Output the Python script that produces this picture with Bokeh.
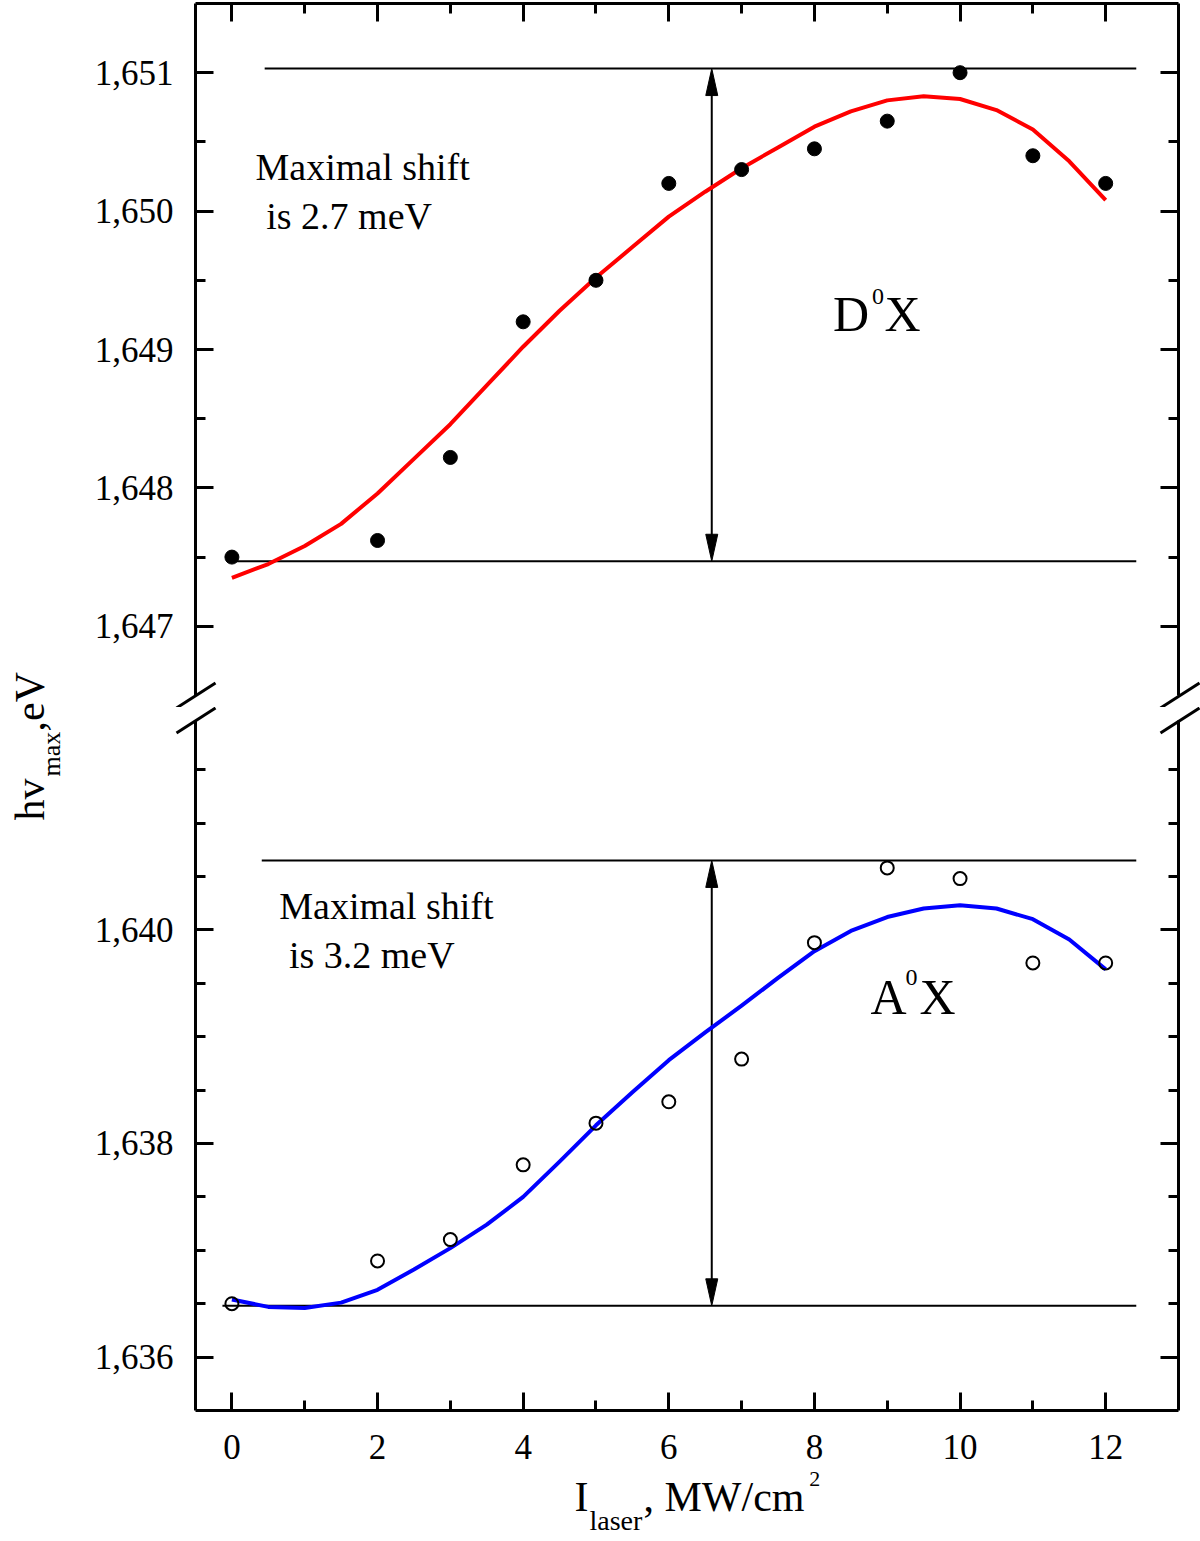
import numpy as np
from bokeh.plotting import figure
from bokeh.models import (Range1d, LinearAxis, FixedTicker, CustomJSTickFormatter, Label)
from bokeh.core.properties import value
from bokeh.layouts import row, column
from bokeh.embed import file_html
from bokeh.resources import INLINE

# ---------------- data ----------------
intensity = [0, 2, 3, 4, 5, 6, 7, 8, 9, 10, 11, 12]
d0x_energy = [1.64750, 1.64762, 1.64822, 1.64920, 1.64950, 1.65020,
              1.65030, 1.65045, 1.65065, 1.65100, 1.65040, 1.65020]
a0x_energy = [1.63650, 1.63690, 1.63710, 1.63780, 1.63819, 1.63839,
              1.63879, 1.63988, 1.64058, 1.64048, 1.63969, 1.63969]

fit_x = [0, 0.5, 1.0, 1.5, 2.0, 2.5, 3.0, 3.5, 4.0, 4.5, 5.0, 5.5, 6.0,
         6.5, 7.0, 7.5, 8.0, 8.5, 9.0, 9.5, 10.0, 10.5, 11.0, 11.5, 12.0]
d0x_fit = [1.64735, 1.64745, 1.64758, 1.64774, 1.64796, 1.64821, 1.64846,
           1.64874, 1.64902, 1.64928, 1.64952, 1.64974, 1.64996, 1.65014,
           1.65031, 1.65046, 1.65061, 1.65072, 1.65080, 1.65083, 1.65081,
           1.65073, 1.65059, 1.65036, 1.65008]
a0x_fit = [1.63654, 1.63647, 1.63646, 1.63651, 1.63663, 1.63682, 1.63702,
           1.63724, 1.63750, 1.63783, 1.63817, 1.63848, 1.63878, 1.63904,
           1.63929, 1.63955, 1.63980, 1.63999, 1.64012, 1.64020, 1.64023,
           1.64020, 1.64010, 1.63991, 1.63963]

d0x_levels = [1.64747, 1.65103]   # min / max guide lines
a0x_levels = [1.63648, 1.64065]
shift_x = 6.59                     # position of the double arrows

x_ticks = [0, 2, 4, 6, 8, 10, 12]
x_minor = [1, 3, 5, 7, 9, 11]
top_ticks = [1.647, 1.648, 1.649, 1.650, 1.651]
top_minor = [1.6475, 1.6485, 1.6495, 1.6505]
bot_ticks = [1.636, 1.638, 1.640]
bot_minor = [1.6365, 1.637, 1.6375, 1.6385, 1.639, 1.6395, 1.6405, 1.641, 1.6415]

# ---------------- layout constants ----------------
FONT = "Liberation Serif"
BASE_CORR = 0.36          # empirical alphabetic-baseline correction (em)
X0, X1 = -0.5, 13.0
FRAME_W = 983
TOP_Y = (1.6465, 1.6515)
BOT_Y = (1.6355, 1.64196)
TOP_FH = 692
BOT_FH = 690
LBL_W = 83
BL, BR = 112, 22
FIG_W = BL + FRAME_W + BR
TOP_H = 3 + TOP_FH + 12
BOT_H = 1541 - TOP_H
BOT_BB = BOT_H - 13 - BOT_FH

KX = FRAME_W / (X1 - X0)

xr = Range1d(X0, X1)
ylab_fmt = CustomJSTickFormatter(code="return tick.toFixed(3).replace('.', ',');")


def style_axis(ax, ticks, minor, labels=True, standoff=22):
    ax.ticker = FixedTicker(ticks=ticks, minor_ticks=minor)
    ax.axis_line_width = 3
    ax.axis_line_color = "black"
    ax.major_tick_in = 18
    ax.major_tick_out = 0
    ax.minor_tick_in = 10
    ax.minor_tick_out = 0
    ax.major_tick_line_width = 3
    ax.minor_tick_line_width = 3
    ax.major_tick_line_color = "black"
    ax.minor_tick_line_color = "black"
    ax.axis_label = None
    if labels:
        ax.major_label_text_font = FONT
        ax.major_label_text_font_size = "35px"
        ax.major_label_text_color = "black"
        ax.major_label_standoff = standoff
    else:
        ax.major_label_text_font_size = "1px"
        ax.major_label_text_color = None
        ax.major_label_standoff = 0


def add_double_arrow(p, x, y0, y1, ky):
    L = 27.0 / ky
    W = 6.0 / KX
    p.segment(x0=[x], y0=[y0 + L * 0.5], x1=[x], y1=[y1 - L * 0.5],
              line_width=2, line_color="black")
    p.patches(xs=[[x, x - W, x + W], [x, x - W, x + W]],
              ys=[[y1, y1 - L, y1 - L], [y0, y0 + L, y0 + L]],
              fill_color="black", line_color="black", line_width=1)


def break_marks(p, yc, ky):
    # two slanted strokes centred on the frame corners where the axis is broken
    xs0 = [X0 - 19 / KX, X1 - 18 / KX]
    xs1 = [X0 + 20 / KX, X1 + 21 / KX]
    p.segment(x0=xs0, y0=[yc - 12.5 / ky] * 2, x1=xs1, y1=[yc + 12.5 / ky] * 2,
              line_width=3, line_color="black", level="overlay")


def base_fig(height, yrange, top_b, bot_b):
    p = figure(width=FIG_W, height=height, x_range=xr,
               y_range=Range1d(*yrange), output_backend="svg",
               toolbar_location=None, x_axis_location=None, y_axis_location=None,
               min_border_left=BL, min_border_right=BR,
               min_border_top=top_b, min_border_bottom=bot_b,
               background_fill_color="white", border_fill_color="white")
    p.outline_line_color = None
    return p


def add_text(p, x, y, text, size, ky):
    # x, y: left end of the text baseline in data units
    y = y + BASE_CORR * size / ky
    p.add_layout(Label(x=x, y=y, text=text, text_font=FONT,
                       text_font_size=f"{size}px", text_color="black",
                       text_align="left", text_baseline="alphabetic"))


def free_text(p, x, y, text, size, ky):
    # text outside the frame (not clipped): glyph on the overlay level
    y = y + BASE_CORR * size / ky
    p.text(x=[x], y=[y], text=[text], text_font=value(FONT),
           text_font_size=value(f"{size}px"), text_color="black",
           text_align="left", text_baseline="alphabetic", level="overlay")


# ---------------- top panel (D0X) ----------------
top = base_fig(TOP_H, TOP_Y, 3, 12)
ky_top = TOP_FH / (TOP_Y[1] - TOP_Y[0])
ax = LinearAxis(); style_axis(ax, top_ticks, top_minor); ax.formatter = ylab_fmt
top.add_layout(ax, "left")
ax = LinearAxis(); style_axis(ax, top_ticks, top_minor, labels=False)
top.add_layout(ax, "right")
ax = LinearAxis(); style_axis(ax, x_ticks, x_minor, labels=False)
top.add_layout(ax, "above")

top.segment(x0=[0.45, 0.0], y0=[d0x_levels[1], d0x_levels[0]],
            x1=[12.42, 12.42], y1=[d0x_levels[1], d0x_levels[0]],
            line_width=2, line_color="black")
add_double_arrow(top, shift_x, d0x_levels[0], d0x_levels[1], ky_top)
top.line(fit_x, d0x_fit, line_color="red", line_width=4, line_join="round")
top.scatter(intensity, d0x_energy, marker="circle", size=14,
            fill_color="black", line_color="black")

add_text(top, 0.324, 1.65022, "Maximal shift", 38, ky_top)
add_text(top, 0.472, 1.649867, "is 2.7 meV", 38, ky_top)
add_text(top, 8.254, 1.649125, "D", 50, ky_top)
add_text(top, 8.79, 1.649318, "0", 24, ky_top)
add_text(top, 8.963, 1.649125, "X", 50, ky_top)
break_marks(top, TOP_Y[0], ky_top)

# ---------------- bottom panel (A0X) ----------------
bot = base_fig(BOT_H, BOT_Y, 13, BOT_BB)
ky_bot = BOT_FH / (BOT_Y[1] - BOT_Y[0])
ax = LinearAxis(); style_axis(ax, bot_ticks, bot_minor); ax.formatter = ylab_fmt
bot.add_layout(ax, "left")
ax = LinearAxis(); style_axis(ax, bot_ticks, bot_minor, labels=False)
bot.add_layout(ax, "right")
ax = LinearAxis(); style_axis(ax, x_ticks, x_minor, standoff=24)
bot.add_layout(ax, "below")

bot.segment(x0=[0.41, -0.13], y0=[a0x_levels[1], a0x_levels[0]],
            x1=[12.42, 12.42], y1=[a0x_levels[1], a0x_levels[0]],
            line_width=2, line_color="black")
add_double_arrow(bot, shift_x, a0x_levels[0], a0x_levels[1], ky_bot)
bot.line(fit_x, a0x_fit, line_color="blue", line_width=4, line_join="round")
bot.scatter(intensity, a0x_energy, marker="circle", size=13,
            fill_color=None, line_color="black", line_width=2)

add_text(bot, 0.651, 1.640094, "Maximal shift", 38, ky_bot)
add_text(bot, 0.783, 1.639641, "is 3.2 meV", 38, ky_bot)
add_text(bot, 8.771, 1.639204, "A", 50, ky_bot)
add_text(bot, 9.25, 1.639469, "0", 24, ky_bot)
add_text(bot, 9.444, 1.639204, "X", 50, ky_bot)
break_marks(bot, BOT_Y[1], ky_bot)

# x axis title: I_laser, MW/cm^2 (below the frame)
free_text(bot, 4.705, 1.634549, "I", 42, ky_bot)
free_text(bot, 4.911, 1.634380, "laser", 28, ky_bot)
free_text(bot, 5.653, 1.634549, ", MW/cm", 42, ky_bot)
free_text(bot, 7.93, 1.634783, "2", 22, ky_bot)

# ---------------- y axis title strip: hv_max,eV ----------------
lab = figure(width=LBL_W, height=1541, x_range=Range1d(0, 1), y_range=Range1d(0, 1),
             output_backend="svg", toolbar_location=None,
             x_axis_location=None, y_axis_location=None, min_border=0,
             background_fill_color="white", border_fill_color="white")
lab.outline_line_color = None
for txt, sx, sy, size in [("hv", 45, 721, 42), ("max", 60, 765, 26), (",eV", 45, 810, 42)]:
    lab.add_layout(Label(x=sx - BASE_CORR * size, y=sy, x_units="screen", y_units="screen",
                         text=txt, angle=np.pi / 2, text_font=FONT,
                         text_font_size=f"{size}px", text_color="black",
                         text_align="left", text_baseline="alphabetic"))

for p in (top, bot, lab):
    for g in p.grid:
        g.visible = False

layout = row(lab, column(top, bot, spacing=0), spacing=0)

with open("out.html", "w") as f:
    f.write(file_html(layout, INLINE))
